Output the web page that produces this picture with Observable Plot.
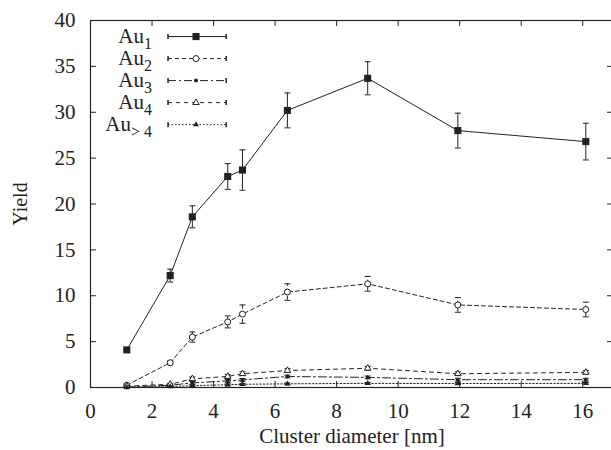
<!DOCTYPE html>
<html>
<head>
<meta charset="utf-8">
<script src="https://cdn.jsdelivr.net/npm/d3@7"></script>
<script src="https://cdn.jsdelivr.net/npm/@observablehq/plot@0.6"></script>
<style>
  html, body { margin: 0; padding: 0; background: #fff; overflow: hidden; }
  #chart { width: 611px; height: 450px; }
</style>
</head>
<body>
<div id="chart"></div>
<script>
// ---- Data ----
const diameters = [1.18, 2.59, 3.31, 4.46, 4.94, 6.40, 9.01, 11.94, 16.1];

const au1 = [4.1, 12.2, 18.6, 23.0, 23.7, 30.2, 33.7, 28.0, 26.8];
const au1Err = [0.2, 0.7, 1.2, 1.4, 2.2, 1.9, 1.8, 1.9, 2.0];

const au2 = [0.25, 2.7, 5.5, 7.15, 8.0, 10.4, 11.3, 9.0, 8.5];
const au2Err = [0.1, 0.2, 0.55, 0.65, 1.0, 0.9, 0.8, 0.8, 0.8];

const au3 = [0.05, 0.25, 0.5, 0.72, 0.83, 1.2, 1.1, 0.85, 0.85];
const au3Err = [0.05, 0.1, 0.15, 0.15, 0.15, 0.15, 0.15, 0.15, 0.15];

const au4 = [0.15, 0.35, 0.95, 1.2, 1.5, 1.85, 2.1, 1.5, 1.65];
const au4Err = [0.05, 0.1, 0.2, 0.2, 0.2, 0.2, 0.2, 0.2, 0.2];

const auGt4 = [0.0, 0.1, 0.2, 0.3, 0.35, 0.4, 0.45, 0.43, 0.45];
const auGt4Err = [0.02, 0.05, 0.1, 0.1, 0.1, 0.1, 0.1, 0.1, 0.1];

const seriesLabels = ["Au_1", "Au_2", "Au_3", "Au_4", "Au_> 4"];
const xTicks = [0, 2, 4, 6, 8, 10, 12, 14, 16];
const yTicks = [0, 5, 10, 15, 20, 25, 30, 35, 40];
const xLabel = "Cluster diameter [nm]";
const yLabel = "Yield";

// ---- Layout / style ----
const W = 611, H = 450;
const mLeft = 90, mRight = -2, mTop = 20, mBottom = 63;
const frameW = W - mLeft - mRight, frameH = H - mTop - mBottom;
const ink = "#222";
const font = "Liberation Serif, Times New Roman, serif";

const styles = [
  {values: au1, err: au1Err, dash: null, symbol: "square", fill: ink, stroke: "none", r: 4},
  {values: au2, err: au2Err, dash: "4,3", symbol: "circle", fill: "white", stroke: ink, r: 3},
  {values: au3, err: au3Err, dash: "8,3,2,3", symbol: "circle", fill: ink, stroke: "none", r: 2},
  {values: au4, err: au4Err, dash: "4,4", symbol: "triangle", fill: "white", stroke: ink, r: 2.4},
  {values: auGt4, err: auGt4Err, dash: "1.5,2", symbol: "triangle", fill: ink, stroke: "none", r: 2.2}
];

// custom symbols for error-bar caps
const hCap = {draw(ctx, size) { const r = Math.sqrt(size / Math.PI); ctx.moveTo(-r, 0); ctx.lineTo(r, 0); }};
const vCap = {draw(ctx, size) { const r = Math.sqrt(size / Math.PI); ctx.moveTo(0, -r); ctx.lineTo(0, r); }};

const marks = [];

// axes: ticks inward on all four sides
marks.push(Plot.tickX(xTicks, {x: d => d, insetTop: frameH - 6, stroke: ink}));
marks.push(Plot.tickX(xTicks, {x: d => d, insetBottom: frameH - 6, stroke: ink}));
marks.push(Plot.tickY(yTicks, {y: d => d, insetRight: frameW - 6, stroke: ink}));
marks.push(Plot.tickY(yTicks, {y: d => d, insetLeft: frameW - 6, stroke: ink}));
marks.push(Plot.axisX({ticks: xTicks, tickSize: 0, tickPadding: 16, label: null, fontSize: 21, fill: ink}));
marks.push(Plot.axisY({ticks: yTicks, tickSize: 0, tickPadding: 15, label: null, fontSize: 21, fill: ink}));
marks.push(Plot.frame({stroke: ink, strokeWidth: 1.2}));
marks.push(Plot.text([xLabel], {frameAnchor: "bottom", dy: 55, text: d => d, fontSize: 21, fill: ink}));
marks.push(Plot.text([yLabel], {frameAnchor: "left", textAnchor: "middle", rotate: -90, dx: -70, text: d => d, fontSize: 20, fill: ink}));

// data series
styles.forEach((s, si) => {
  const rows = diameters.map((x, i) => ({x, y: s.values[i], lo: s.values[i] - s.err[i], hi: s.values[i] + s.err[i]}));
  marks.push(Plot.line(rows, {x: "x", y: "y", stroke: ink, strokeWidth: 1, strokeDasharray: s.dash}));
  marks.push(Plot.ruleX(rows, {x: "x", y1: "lo", y2: "hi", stroke: ink, strokeWidth: 1, strokeDasharray: s.dash}));
  marks.push(Plot.dot(rows, {x: "x", y: "lo", symbol: hCap, r: 3, stroke: ink, strokeWidth: 1}));
  marks.push(Plot.dot(rows, {x: "x", y: "hi", symbol: hCap, r: 3, stroke: ink, strokeWidth: 1}));
  marks.push(Plot.dot(rows, {x: "x", y: "y", symbol: s.symbol, r: s.r, fill: s.fill, stroke: s.stroke, strokeWidth: 1}));

  // legend entry (inside plot, top-left)
  const ly = 38.25 - si * 2.4;
  const leg = [{x1: 2.52, x2: 4.41, xm: 3.43, xt: 2.0, y: ly, label: seriesLabels[si]}];
  marks.push(Plot.link(leg, {x1: "x1", x2: "x2", y1: "y", y2: "y", stroke: ink, strokeWidth: 1, strokeDasharray: s.dash}));
  marks.push(Plot.dot(leg, {x: "x1", y: "y", symbol: vCap, r: 2.5, stroke: ink}));
  marks.push(Plot.dot(leg, {x: "x2", y: "y", symbol: vCap, r: 2.5, stroke: ink}));
  marks.push(Plot.dot(leg, {x: "xm", y: "y", symbol: s.symbol, r: s.r, fill: s.fill, stroke: s.stroke, strokeWidth: 1}));
  marks.push(Plot.text(leg, {x: "xt", y: "y", text: "label", textAnchor: "end", fontSize: 21, fill: ink}));
});

const chart = Plot.plot({
  width: W,
  height: H,
  marginLeft: mLeft,
  marginRight: mRight,
  marginTop: mTop,
  marginBottom: mBottom,
  style: {fontFamily: font, fontSize: "20px", background: "white", color: ink, overflow: "visible"},
  x: {domain: [0, 17], axis: null},
  y: {domain: [0, 40], axis: null},
  marks
});

// subscripts in legend labels
d3.select(chart).selectAll("text").each(function () {
  const t = this.textContent;
  if (t.includes("_")) {
    const [base, sub] = t.split("_");
    const sel = d3.select(this);
    sel.text("");
    sel.append("tspan").text(base);
    sel.append("tspan").attr("dy", "0.35em").attr("font-size", "16px").text(sub);
  }
});

document.getElementById("chart").appendChild(chart);
</script>
</body>
</html>
